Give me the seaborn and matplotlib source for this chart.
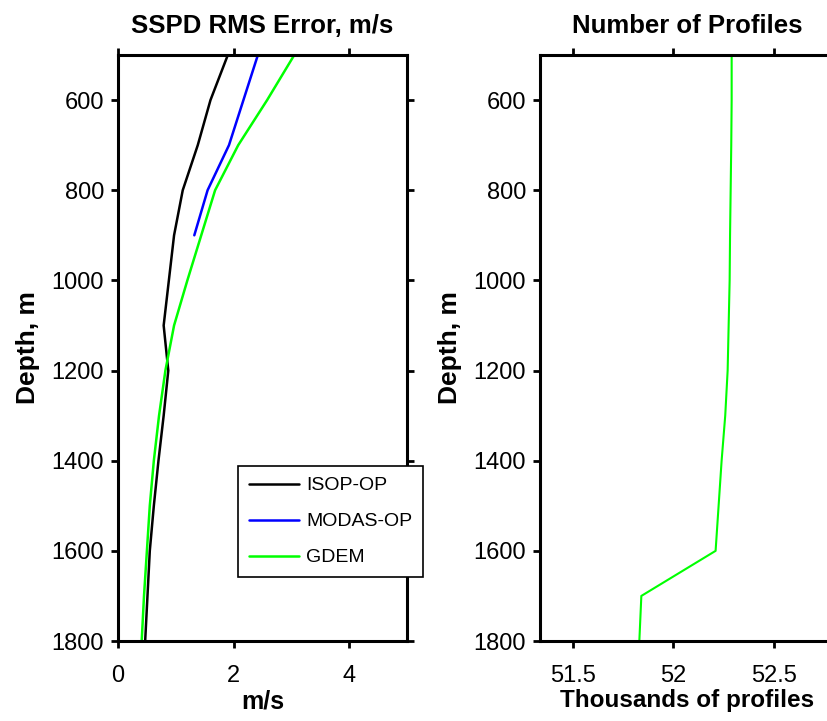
import numpy as np
import pandas as pd
import seaborn as sns
import matplotlib.pyplot as plt

sns.set_style("ticks")
plt.rcParams['font.family'] = ['Liberation Sans', 'DejaVu Sans']
plt.rcParams['text.color'] = 'black'
plt.rcParams['axes.labelcolor'] = 'black'

# depth levels (m)
depth = [500, 600, 700, 800, 900, 1000, 1100, 1200, 1300, 1400, 1500, 1600, 1700, 1800]
# RMS error of sound speed profile differences, m/s
isop_op = [1.90, 1.60, 1.38, 1.12, 0.97, 0.88, 0.79, 0.87, 0.79, 0.70, 0.62, 0.55, 0.51, 0.47]
modas_depth = [500, 600, 700, 800, 900]
modas_op = [2.42, 2.17, 1.92, 1.55, 1.32]
gdem = [3.05, 2.58, 2.08, 1.68, 1.44, 1.20, 0.97, 0.82, 0.71, 0.62, 0.55, 0.50, 0.45, 0.41]
# number of profiles, thousands
n_profiles = [52.29, 52.29, 52.288, 52.285, 52.282, 52.28, 52.275, 52.27, 52.258,
              52.24, 52.225, 52.21, 51.84, 51.83]

rms = pd.concat([
    pd.DataFrame({'depth': depth, 'rms': isop_op, 'model': 'ISOP-OP'}),
    pd.DataFrame({'depth': modas_depth, 'rms': modas_op, 'model': 'MODAS-OP'}),
    pd.DataFrame({'depth': depth, 'rms': gdem, 'model': 'GDEM'}),
])
prof = pd.DataFrame({'depth': depth, 'n': n_profiles})

palette = {'ISOP-OP': '#000000', 'MODAS-OP': '#0000ff', 'GDEM': '#00ff00'}

fig = plt.figure(figsize=(8.28, 7.21), dpi=100)
ax1 = fig.add_axes([118 / 828, 80 / 721, 289 / 828, 586 / 721])
ax2 = fig.add_axes([540 / 828, 80 / 721, 294 / 828, 586 / 721])

sns.lineplot(data=rms, x='rms', y='depth', hue='model', palette=palette,
             sort=False, estimator=None, linewidth=1.8, ax=ax1)
sns.lineplot(data=prof, x='n', y='depth', color='#00ff00',
             sort=False, estimator=None, linewidth=1.5, ax=ax2)

for ax in (ax1, ax2):
    ax.set_ylim(1800, 500)
    ax.set_yticks(range(600, 1801, 200))
    ax.tick_params(direction='out', length=5, width=2, labelsize=17,
                   top=True, right=True, colors='black')
    ax.tick_params(axis='y', pad=5)
    ax.tick_params(axis='x', pad=12)
    for sp in ax.spines.values():
        sp.set_visible(True)
        sp.set_linewidth(2.2)
        sp.set_color('black')
    ax.set_ylabel('Depth, m', fontsize=19, fontweight='bold', labelpad=8)

ax1.set_xlim(0, 5)
ax1.set_xticks([0, 2, 4])
ax1.set_xlabel('m/s', fontsize=18, fontweight='bold', labelpad=2)
ax1.set_title('SSPD RMS Error, m/s', fontsize=18.5, fontweight='bold', pad=16)

ax2.set_xlim(51.335, 52.8)
ax2.set_xticks([51.5, 52, 52.5])
ax2.set_xticklabels(['51.5', '52', '52.5'])
ax2.set_xlabel('Thousands of profiles', fontsize=17.5, fontweight='bold', labelpad=2)
ax2.set_title('Number of Profiles', fontsize=18.5, fontweight='bold', pad=16)

leg = ax1.legend(loc='upper left', bbox_to_anchor=(238 / 828, 1 - 466 / 721),
                 bbox_transform=fig.transFigure, fontsize=14, frameon=True,
                 fancybox=False, framealpha=1, handlelength=2.6, handletextpad=0.35,
                 borderpad=0.55, labelspacing=0.95, borderaxespad=0)
leg.get_frame().set_edgecolor('black')
leg.get_frame().set_linewidth(1.2)
leg.set_zorder(5)
for line in leg.get_lines():
    line.set_linewidth(1.8)

fig.savefig('out.png', dpi=100)
